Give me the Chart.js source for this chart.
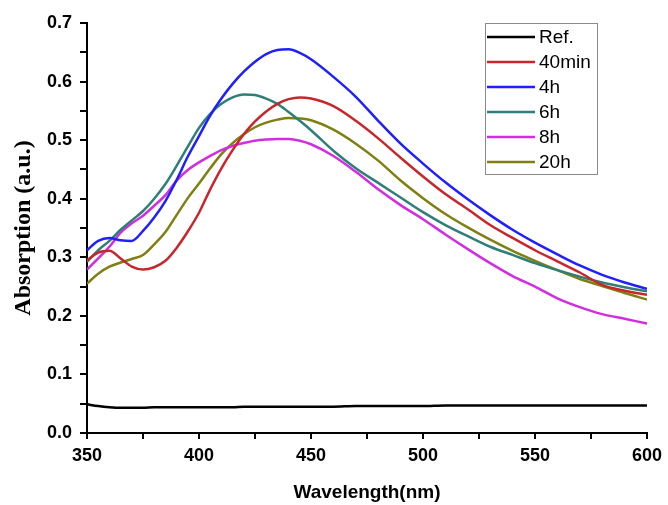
<!DOCTYPE html>
<html>
<head>
<meta charset="utf-8">
<script src="https://cdn.jsdelivr.net/npm/chart.js@4"></script>
<style>
  html, body { margin: 0; padding: 0; background: #fff; }
  #wrap { width: 668px; height: 505px; }
</style>
</head>
<body>
<div id="wrap"><canvas id="absChart" width="668" height="505"></canvas></div>
<script>
// wavelengths (nm)
const wavelengths = [350, 355, 360, 365, 370, 375, 380, 385, 390, 395, 400, 405, 410, 415, 420, 425, 430, 435, 440, 445, 450,
  460, 470, 480, 490, 500, 510, 520, 530, 540, 550, 560, 570, 580, 590, 600];

const seriesNames = ['Ref.', '40min', '4h', '6h', '8h', '20h'];

const refValues = [0.049, 0.046, 0.044, 0.043, 0.043, 0.043, 0.044, 0.044, 0.044, 0.044, 0.044, 0.044, 0.044, 0.044, 0.045, 0.045, 0.045, 0.045, 0.045, 0.045, 0.045,
  0.045, 0.046, 0.046, 0.046, 0.046, 0.047, 0.047, 0.047, 0.047, 0.047, 0.047, 0.047, 0.047, 0.047, 0.047];
const min40Values = [0.295, 0.308, 0.311, 0.298, 0.284, 0.279, 0.283, 0.294, 0.316, 0.344, 0.376, 0.416, 0.452, 0.483, 0.510, 0.532, 0.549, 0.562, 0.570, 0.573, 0.571,
  0.558, 0.533, 0.503, 0.470, 0.438, 0.408, 0.382, 0.355, 0.333, 0.312, 0.293, 0.274, 0.253, 0.243, 0.236];
const h4Values = [0.312, 0.328, 0.333, 0.329, 0.328, 0.345, 0.368, 0.396, 0.432, 0.472, 0.507, 0.542, 0.571, 0.596, 0.617, 0.634, 0.647, 0.654, 0.655, 0.649, 0.638,
  0.608, 0.574, 0.533, 0.494, 0.460, 0.428, 0.399, 0.372, 0.347, 0.325, 0.305, 0.286, 0.270, 0.257, 0.246];
const h6Values = [0.292, 0.312, 0.328, 0.347, 0.363, 0.379, 0.400, 0.425, 0.456, 0.489, 0.521, 0.545, 0.562, 0.573, 0.578, 0.577, 0.571, 0.562, 0.548, 0.533, 0.517,
  0.482, 0.452, 0.427, 0.402, 0.377, 0.355, 0.336, 0.318, 0.304, 0.290, 0.278, 0.267, 0.257, 0.249, 0.242];
const h8Values = [0.279, 0.298, 0.318, 0.342, 0.358, 0.371, 0.388, 0.406, 0.431, 0.449, 0.462, 0.473, 0.483, 0.490, 0.495, 0.499, 0.501, 0.502, 0.502, 0.499, 0.493,
  0.473, 0.446, 0.416, 0.389, 0.365, 0.339, 0.314, 0.290, 0.268, 0.250, 0.230, 0.215, 0.203, 0.195, 0.187];
const h20Values = [0.255, 0.272, 0.284, 0.291, 0.297, 0.304, 0.322, 0.343, 0.372, 0.401, 0.426, 0.452, 0.476, 0.495, 0.510, 0.522, 0.530, 0.535, 0.538, 0.537, 0.534,
  0.518, 0.494, 0.465, 0.431, 0.401, 0.374, 0.351, 0.330, 0.311, 0.294, 0.278, 0.263, 0.251, 0.239, 0.228];

const allValues = [refValues, min40Values, h4Values, h6Values, h8Values, h20Values];
const lineColors = ['#000000', '#c8262a', '#1f1fff', '#2f7f78', '#d22ee0', '#7f7f12'];

function toPoints(values) {
  return values.map((v, i) => ({ x: wavelengths[i], y: v }));
}

// legend drawn inside the plot, with a grey frame
const boxedLegend = {
  id: 'boxedLegend',
  afterDatasetsDraw(chart) {
    const ctx = chart.ctx;
    const x0 = 485, y0 = 23, w = 112, h = 151;
    ctx.save();
    ctx.fillStyle = '#fff';
    ctx.fillRect(x0, y0, w, h);
    ctx.strokeStyle = '#8a8a8a';
    ctx.lineWidth = 1;
    ctx.strokeRect(x0 + 0.5, y0 + 0.5, w, h);
    ctx.font = '19px "Liberation Sans", Arial, sans-serif';
    ctx.textBaseline = 'middle';
    chart.data.datasets.forEach((ds, i) => {
      const y = 37 + i * 25;
      ctx.strokeStyle = ds.borderColor;
      ctx.lineWidth = 2.5;
      ctx.beginPath();
      ctx.moveTo(487, y);
      ctx.lineTo(535, y);
      ctx.stroke();
      ctx.fillStyle = '#000';
      ctx.fillText(ds.label, 539, y + 1);
    });
    ctx.restore();
  }
};

const tickFont = { family: '"Liberation Sans", Arial, sans-serif', size: 18, weight: 'bold' };

new Chart(document.getElementById('absChart').getContext('2d'), {
  type: 'line',
  data: {
    datasets: seriesNames.map((name, i) => ({
      label: name,
      data: toPoints(allValues[i]),
      borderColor: lineColors[i],
      backgroundColor: lineColors[i],
      borderWidth: 2.5,
      pointRadius: 0,
      cubicInterpolationMode: 'monotone',
      fill: false
    }))
  },
  options: {
    responsive: false,
    animation: false,
    layout: { padding: { top: 23, right: 20, left: 0, bottom: 0 } },
    plugins: {
      legend: { display: false },
      tooltip: { enabled: false }
    },
    scales: {
      x: {
        type: 'linear',
        min: 350,
        max: 600,
        afterFit(scale) { scale.height = 72; },
        border: { display: true, color: '#000', width: 2 },
        grid: { display: true, drawOnChartArea: false, drawTicks: true, tickLength: 6, color: '#000', lineWidth: 2 },
        ticks: {
          stepSize: 25,
          padding: 6,
          color: '#000',
          font: tickFont,
          maxRotation: 0,
          autoSkip: false,
          callback: (v) => (v % 50 === 0 ? String(v) : '')
        },
        title: {
          display: true,
          text: 'Wavelength(nm)',
          color: '#000',
          font: { family: '"Liberation Sans", Arial, sans-serif', size: 19, weight: 'bold' },
          padding: { top: 0, bottom: 1 }
        }
      },
      y: {
        min: 0,
        max: 0.7,
        afterFit(scale) { scale.width = 87; },
        border: { display: true, color: '#000', width: 2 },
        grid: { display: true, drawOnChartArea: false, drawTicks: true, tickLength: 7, color: '#000', lineWidth: 2 },
        ticks: {
          stepSize: 0.05,
          padding: 8,
          color: '#000',
          font: tickFont,
          autoSkip: false,
          callback: (v) => {
            const r = Math.round(v * 100);
            return r % 10 === 0 ? (r / 100).toFixed(1) : '';
          }
        },
        title: {
          display: true,
          text: 'Absorption (a.u.)',
          color: '#000',
          font: { family: '"Liberation Serif", "Times New Roman", serif', size: 24, weight: 'bold' },
          padding: { top: 9, bottom: 0 }
        }
      }
    }
  },
  plugins: [boxedLegend]
});
</script>
</body>
</html>
